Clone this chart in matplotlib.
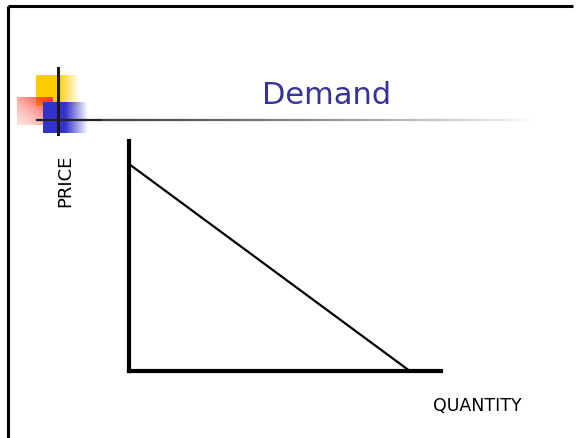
import numpy as np
import matplotlib
matplotlib.use('Agg')
import matplotlib.pyplot as plt

# Demand curve data
quantity = [0, 9]
price = [9, 0]

title = 'Demand'
xlabel = 'QUANTITY'
ylabel = 'PRICE'

W, H = 582, 438
fig = plt.figure(figsize=(W / 100, H / 100), dpi=100)

# background axes in pixel coordinates (slide decoration)
bg = fig.add_axes([0, 0, 1, 1])
bg.set_xlim(0, W)
bg.set_ylim(H, 0)
bg.axis('off')


def gradient_box(ax, x0, x1, y0, y1, color, solid_frac, direction='x', z=1):
    n = 200
    t = np.linspace(0, 1, n)
    alpha = np.where(t < solid_frac, 1.0, 1 - (t - solid_frac) / (1 - solid_frac))
    rgba = np.zeros((1, n, 4)) if direction == 'x' else np.zeros((n, n, 4))
    rgb = matplotlib.colors.to_rgb(color)
    if direction == 'x':
        rgba[..., :3] = rgb
        rgba[..., 3] = alpha
    else:
        # diagonal fade: strong at top-right, fading to bottom-left
        xx, yy = np.meshgrid(np.linspace(0, 1, n), np.linspace(0, 1, n))
        d = np.clip((xx + (1 - yy)) / 2, 0, 1)
        rgba[..., :3] = rgb
        rgba[..., 3] = 0.15 + 0.85 * d ** 1.5
    ax.imshow(rgba, extent=(x0, x1, y1, y0), aspect='auto', zorder=z, interpolation='bilinear')


gradient_box(bg, 36, 80, 75, 106, '#FFCC00', 0.5, z=1)
gradient_box(bg, 17, 53, 97, 125, '#FF3322', 0.0, direction='d', z=2)
gradient_box(bg, 43, 88, 102, 133, '#3333CC', 0.5, z=3)
bg.set_xlim(0, W)
bg.set_ylim(H, 0)

# cross lines
bg.plot([58, 58], [68, 134], color='#1a1a1a', lw=2.2, zorder=5)
bg.plot([37, 100], [120, 120], color='#222222', lw=1.6, zorder=5)
# fading rule under title
xs = np.linspace(100, 530, 100)
for i in range(len(xs) - 1):
    g = 0.25 + 0.72 * (i / (len(xs) - 1)) ** 1.2
    bg.plot(xs[i:i + 2], [120, 120], color=(g, g, g), lw=1.6, solid_capstyle='butt', zorder=4)

# slide border (top and left)
bg.plot([8, 573], [6, 6], color='black', lw=2.2, solid_capstyle='butt')
bg.plot([8, 8], [6, H], color='black', lw=2.2, solid_capstyle='butt')

bg.text(327, 96, title, color='#333399', fontsize=22, ha='center', va='center',
        family='DejaVu Sans')
bg.text(65, 181, ylabel, rotation=90, fontsize=13, ha='center', va='center', family='DejaVu Sans')
bg.text(477, 406, xlabel, fontsize=12.5, ha='center', va='center', family='DejaVu Sans')

# demand graph axes
ax = fig.add_axes([129 / W, 1 - 371 / H, (441 - 129) / W, (371 - 141) / H])
ax.set_xlim(0, 10)
ax.set_ylim(0, 10)
ax.plot(quantity, price, color='black', lw=1.6)
for s in ['top', 'right']:
    ax.spines[s].set_visible(False)
for s in ['left', 'bottom']:
    ax.spines[s].set_linewidth(3)
ax.set_xticks([])
ax.set_yticks([])
ax.patch.set_alpha(0)

fig.savefig('out.png', dpi=100)
